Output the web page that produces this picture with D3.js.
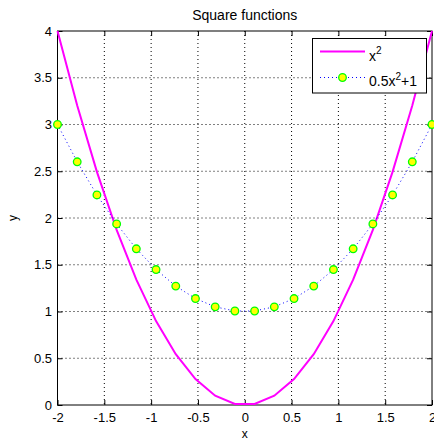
<!DOCTYPE html>
<html><head><meta charset="utf-8">
<script src="https://cdn.jsdelivr.net/npm/d3@7"></script>
<style>body{margin:0;background:#fff;} text{font-family:"Liberation Sans",Arial,sans-serif;}</style>
</head><body><svg id="c" width="434" height="440"></svg>
<script>
const xs = [-2, -1.7895, -1.5789, -1.3684, -1.1579, -0.9474, -0.7368, -0.5263, -0.3158, -0.1053, 0.1053, 0.3158, 0.5263, 0.7368, 0.9474, 1.1579, 1.3684, 1.5789, 1.7895, 2];
const sq = [4, 3.2022, 2.4931, 1.8726, 1.3407, 0.8975, 0.5429, 0.2770, 0.0997, 0.0111, 0.0111, 0.0997, 0.2770, 0.5429, 0.8975, 1.3407, 1.8726, 2.4931, 3.2022, 4];
const half = [3, 2.6011, 2.2465, 1.9363, 1.6704, 1.4488, 1.2715, 1.1385, 1.0499, 1.0055, 1.0055, 1.0499, 1.1385, 1.2715, 1.4488, 1.6704, 1.9363, 2.2465, 2.6011, 3];
const xTicks = [-2, -1.5, -1, -0.5, 0, 0.5, 1, 1.5, 2];
const yTicks = [0, 0.5, 1, 1.5, 2, 2.5, 3, 3.5, 4];

const L = 57.5, R = 432, T = 31, B = 405;
const svg = d3.select("#c");
const x = d3.scaleLinear().domain([-2, 2]).range([L, R]);
const y = d3.scaleLinear().domain([0, 4]).range([B, T]);

// grid
const g = svg.append("g");
xTicks.slice(1, -1).forEach(t => g.append("line").attr("x1", x(t)).attr("x2", x(t)).attr("y1", T).attr("y2", B)
  .attr("stroke", "#000").attr("stroke-width", 1).attr("stroke-dasharray", "1,3"));
yTicks.slice(1, -1).forEach(t => g.append("line").attr("x1", L).attr("x2", R).attr("y1", y(t)).attr("y2", y(t))
  .attr("stroke", "#000").attr("stroke-width", 1).attr("stroke-dasharray", "1,3"));

// axes
const fmt = d => String(d);
svg.append("g").attr("transform", `translate(0,${B})`)
  .call(d3.axisBottom(x).tickValues(xTicks).tickFormat(fmt).tickSizeInner(-5).tickSizeOuter(0).tickPadding(8))
  .call(a => a.select(".domain").remove());
svg.append("g").attr("transform", `translate(0,${T})`)
  .call(d3.axisTop(x).tickValues(xTicks).tickFormat("").tickSizeInner(-5).tickSizeOuter(0))
  .call(a => a.select(".domain").remove());
svg.append("g").attr("transform", `translate(${L},0)`)
  .call(d3.axisLeft(y).tickValues(yTicks).tickFormat(fmt).tickSizeInner(-5).tickSizeOuter(0).tickPadding(5.5))
  .call(a => a.select(".domain").remove());
svg.append("g").attr("transform", `translate(${R},0)`)
  .call(d3.axisRight(y).tickValues(yTicks).tickFormat("").tickSizeInner(-5).tickSizeOuter(0))
  .call(a => a.select(".domain").remove());
svg.selectAll(".tick text").attr("font-size", 13).attr("fill", "#000").attr("font-family", "Liberation Sans, Arial, sans-serif");
svg.selectAll(".tick line").attr("stroke", "#000");
svg.append("rect").attr("x", L).attr("y", T).attr("width", R - L).attr("height", B - T)
  .attr("fill", "none").attr("stroke", "#000").attr("stroke-width", 1);

// series
const pts = xs.map((v, i) => [v, sq[i], half[i]]);
svg.append("path").datum(pts).attr("fill", "none").attr("stroke", "#ff00ff").attr("stroke-width", 2)
  .attr("d", d3.line().x(d => x(d[0])).y(d => y(d[1])));
svg.append("path").datum(pts).attr("fill", "none").attr("stroke", "#0000ff").attr("stroke-width", 1).attr("stroke-dasharray", "1,3")
  .attr("d", d3.line().x(d => x(d[0])).y(d => y(d[2])));
svg.append("g").selectAll("circle").data(pts).join("circle")
  .attr("cx", d => x(d[0])).attr("cy", d => y(d[2])).attr("r", 3.8)
  .attr("fill", "#ffff00").attr("stroke", "#00ff00").attr("stroke-width", 1.3);

// title / labels
svg.append("text").attr("x", (L + R) / 2).attr("y", 19.5).attr("text-anchor", "middle").attr("font-size", 14).text("Square functions");
svg.append("text").attr("x", (L + R) / 2).attr("y", 438).attr("text-anchor", "middle").attr("font-size", 12).text("x");
svg.append("text").attr("transform", `translate(17,${(T + B) / 2}) rotate(-90)`).attr("text-anchor", "middle").attr("font-size", 12).text("y");

// legend
const lg = svg.append("g");
lg.append("rect").attr("x", 312.5).attr("y", 38.5).attr("width", 114).attr("height", 54.5)
  .attr("fill", "#fff").attr("stroke", "#000").attr("stroke-width", 1);
lg.append("line").attr("x1", 320).attr("x2", 365).attr("y1", 51.5).attr("y2", 51.5).attr("stroke", "#ff00ff").attr("stroke-width", 2);
lg.append("line").attr("x1", 320).attr("x2", 365).attr("y1", 77.5).attr("y2", 77.5).attr("stroke", "#0000ff").attr("stroke-dasharray", "1,3");
lg.append("circle").attr("cx", 342.5).attr("cy", 77.5).attr("r", 3.8).attr("fill", "#ffff00").attr("stroke", "#00ff00").attr("stroke-width", 1.3);
const t1 = lg.append("text").attr("x", 369).attr("y", 60.5).attr("font-size", 14);
t1.append("tspan").text("x");
t1.append("tspan").attr("dy", -6.5).attr("font-size", 10).text("2");
const t2 = lg.append("text").attr("x", 369).attr("y", 86).attr("font-size", 14);
t2.append("tspan").text("0.5x");
t2.append("tspan").attr("dy", -6.5).attr("font-size", 10).text("2");
t2.append("tspan").attr("dy", 6.5).text("+1");
</script></body></html>
